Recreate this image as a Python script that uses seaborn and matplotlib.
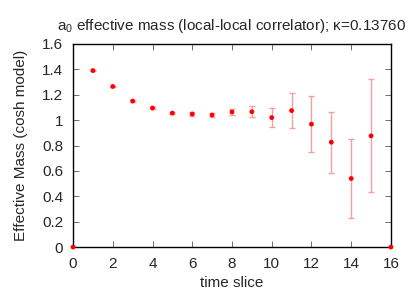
import matplotlib
matplotlib.use("Agg")
import matplotlib.pyplot as plt
import seaborn as sns
import pandas as pd
import numpy as np

t = [0, 1, 2, 3, 4, 5, 6, 7, 8, 9, 10, 11, 12, 13, 14, 15, 16]
mass = [0.0, 1.39, 1.265, 1.15, 1.095, 1.055, 1.048, 1.04, 1.064, 1.066, 1.02, 1.075, 0.968, 0.826, 0.54, 0.876, 0.0]
err = [0.0, 0.004, 0.006, 0.008, 0.01, 0.01, 0.012, 0.018, 0.025, 0.045, 0.075, 0.135, 0.22, 0.24, 0.315, 0.445, 0.0]

df = pd.DataFrame({"t": t, "m": mass, "e": err})

sns.set_style("ticks")
plt.rcParams['font.family'] = ['Liberation Sans', 'DejaVu Sans']
plt.rcParams['mathtext.fontset'] = 'custom'
plt.rcParams['mathtext.rm'] = 'Liberation Sans'
plt.rcParams['mathtext.it'] = 'Liberation Sans'

fig = plt.figure(figsize=(4.15, 2.91), dpi=100)
ax = fig.add_axes([0.176, 0.151, 0.766, 0.698])

ax.errorbar(df["t"], df["m"], yerr=df["e"], fmt="none", ecolor="#f4a0a0",
            elinewidth=1.0, capsize=2, capthick=1.0, zorder=2)
sns.scatterplot(data=df, x="t", y="m", color="red", s=12, edgecolor="none",
                ax=ax, zorder=3, clip_on=False)

ax.set_xlim(0, 16)
ax.set_ylim(0, 1.6)
ax.set_xticks(range(0, 17, 2))
ax.set_yticks(np.arange(0, 1.61, 0.2))
ax.set_yticklabels(["0", "0.2", "0.4", "0.6", "0.8", "1", "1.2", "1.4", "1.6"])
ax.tick_params(direction="in", top=True, right=True, labelsize=11, length=4, width=0.6,
               color="#555555", pad=7)
for s in ax.spines.values():
    s.set_linewidth(1.0)
    s.set_color("black")
ax.set_xlabel("time slice", fontsize=11, labelpad=4)
ax.set_ylabel("Effective Mass (cosh model)", fontsize=11, labelpad=10)
ax.set_title(r"a$_\mathrm{0}$ effective mass (local-local correlator); κ=0.13760", fontsize=11, pad=10)

fig.savefig("out.png", dpi=100)
